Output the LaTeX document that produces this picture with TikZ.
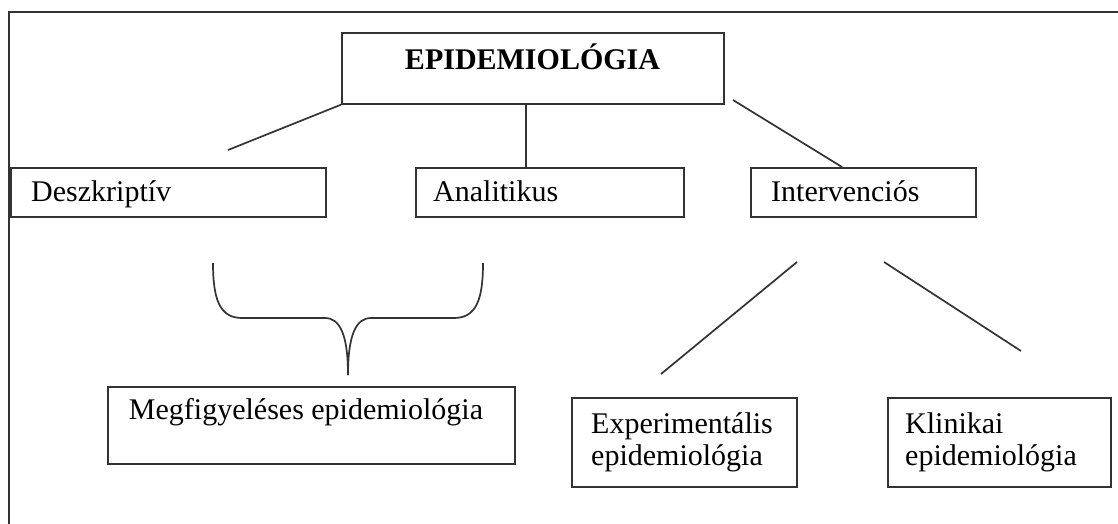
\documentclass[tikz,border=0pt]{standalone}
\usepackage{fontspec}
\setmainfont{Liberation Serif}
\begin{document}
\begin{tikzpicture}[x=1pt,y=-1pt,
  ln/.style={line width=1.7pt,draw=black!80},
  box/.style={draw=black!80,line width=1.7pt,rectangle,anchor=north west,inner sep=0pt},
  txt/.style={inner sep=0pt,anchor=base west,font=\fontsize{30}{27}\selectfont,align=left},
  txttwo/.style={txt,font=\fontsize{30}{32}\selectfont}]
\useasboundingbox (0,0) rectangle (1118,524);
% outer frame (top and left only)
\draw[ln] (1118,12) -- (9,12) -- (9,524);
% boxes
\node[box,minimum width=382pt,minimum height=71pt] (epi) at (341,32) {};
\node[box,minimum width=315pt,minimum height=49pt] (desz) at (10,167) {};
\node[box,minimum width=268pt,minimum height=49pt] (anal) at (415,167) {};
\node[box,minimum width=225pt,minimum height=49pt] (interv) at (750,167) {};
\node[box,minimum width=407pt,minimum height=77pt] (megf) at (107,386) {};
\node[box,minimum width=225pt,minimum height=89pt] (exper) at (571,397) {};
\node[box,minimum width=223pt,minimum height=89pt] (klin) at (887,397) {};
% texts
\node[txt,anchor=base,font=\fontsize{30}{27}\selectfont\bfseries] (tepi) at (532.5,70) {EPIDEMIOLÓGIA};
\node[txt] (tdesz) at (31,201) {Deszkriptív};
\node[txt] (tanal) at (433,201) {Analitikus};
\node[txt] (tinterv) at (771,201) {Intervenciós};
\node[txt,anchor=base] (tmegf) at (306,419) {Megfigyeléses epidemiológia};
\node[txttwo] (texper) at (591,465) {Experimentális\\epidemiológia};
\node[txttwo] (tklin) at (905,465) {Klinikai\\epidemiológia};
% connectors
\coordinate (d1) at (228,150);
\draw[ln] (epi.south west) -- (d1);
\draw[ln] (526,103) coordinate (a0) -- (a0 |- anal.north);
\coordinate (i0) at (733,100);
\draw[ln] (i0) -- (842,167) coordinate (i1);
% brace
\coordinate (bl) at (213,263);
\coordinate (br) at (483,263);
\coordinate (bt) at (348,375);
\draw[ln] (bl) .. controls (213,300) and (220,318) .. (242,318) -- (325,318)
  .. controls (340,318) and (348,335) .. (bt);
\draw[ln] (br) .. controls (483,300) and (476,318) .. (454,318) -- (371,318)
  .. controls (356,318) and (348,335) .. (bt);
% lower connectors
\coordinate (e0) at (797,262);
\coordinate (e1) at (661,374);
\draw[ln] (e0) -- (e1);
\coordinate (k0) at (884,262);
\coordinate (k1) at (1021,351);
\draw[ln] (k0) -- (k1);
\end{tikzpicture}
\end{document}
